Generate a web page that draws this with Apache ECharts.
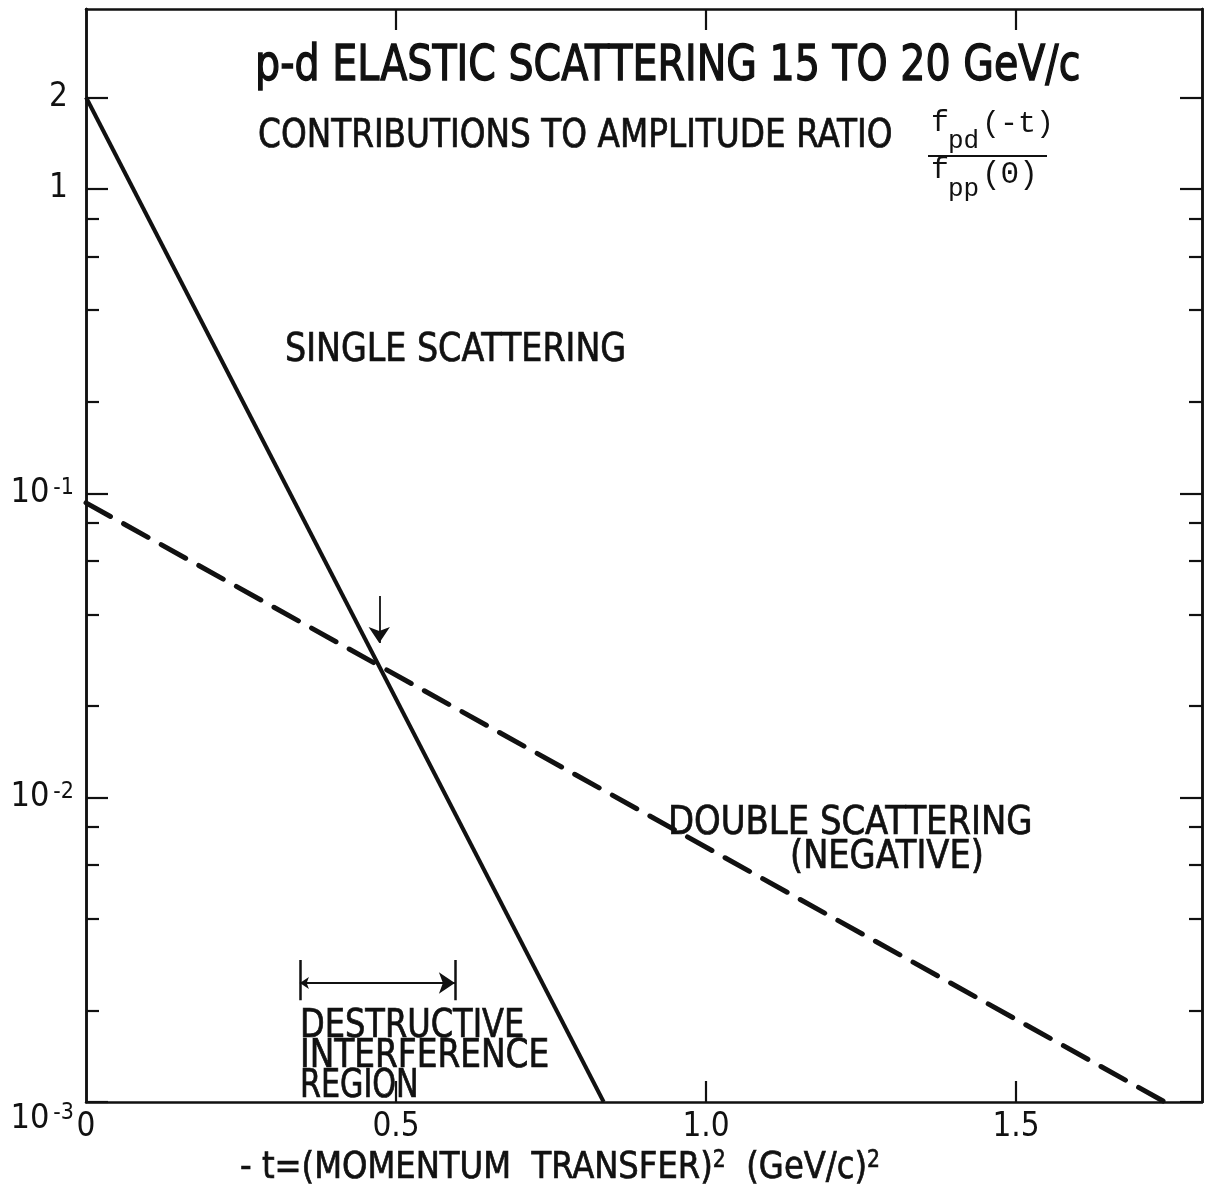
<!DOCTYPE html>
<html>
<head>
<meta charset="utf-8">
<script src="https://cdn.jsdelivr.net/npm/echarts@6/dist/echarts.min.js"></script>
<style>
html,body{margin:0;padding:0;background:#fff;}
#chart{width:1208px;height:1200px;}
</style>
</head>
<body>
<div id="chart"></div>
<script>
// ---- data ----
const singleX = [0, 0.835];
const singleY = [2, 0.001];
const doubleX = [0, 1.74];
const doubleY = [0.093, 0.001];
const regionX = [0.345, 0.595];
const regionY = 0.00246;
const regionBarY = [0.00293, 0.00216];
const crossArrowX = 0.473;
const crossArrowY = [0.046, 0.0322];

const xTickValues = [0.5, 1.0, 1.5];
const xLabelValues = [0, 0.5, 1.0, 1.5];
const yMajorTicks = [0.001, 0.01, 0.1, 1, 2];
const yMinorTicks = [0.002, 0.004, 0.006, 0.008, 0.02, 0.04, 0.06, 0.08, 0.2, 0.4, 0.6, 0.8];
const yLabelValues = [0.001, 0.01, 0.1, 1, 2];

const FONT = "'Liberation Sans Narrow', 'DejaVu Sans Condensed', 'Liberation Sans', sans-serif";
const MONO = "'Liberation Mono', 'DejaVu Sans Mono', monospace";
const INK = '#111';

const chart = echarts.init(document.getElementById('chart'), null, {renderer: 'canvas'});

function yAxisDef(position, ticks, len, labels) {
  return {
    type: 'log', logBase: 10, min: 0.001, max: 3.9, position: position,
    axisLine: {show: true, lineStyle: {color: INK, width: 2.5}},
    axisTick: {show: true, inside: true, length: len, customValues: ticks, lineStyle: {color: INK, width: 2.2}},
    axisLabel: labels ? {
      show: true, customValues: yLabelValues, margin: 12, color: INK,
      fontFamily: FONT, fontSize: 30,
      formatter: function (v) {
        if (v >= 0.99) return '{n|' + Math.round(v) + '}';
        const e = Math.round(Math.log10(v));
        if (e <= -3) return '{sp| }\n{b|10}{s|' + e + '}';
        return '{b|10}{s|' + e + '}';
      },
      rich: {
        n: {fontFamily: FONT, fontSize: 33, color: INK, padding: [0, 6, 0, 0]},
        sp: {fontSize: 10, lineHeight: 34},
        b: {fontFamily: FONT, fontSize: 34, color: INK, lineHeight: 34, verticalAlign: 'bottom'},
        s: {fontFamily: FONT, fontSize: 23, color: INK, lineHeight: 22, verticalAlign: 'top', padding: [0, 0, 0, 4]}
      }
    } : {show: false},
    splitLine: {show: false},
    minorTick: {show: false}
  };
}

function xAxisDef(position, labels) {
  return {
    type: 'value', min: 0, max: 1.8, position: position,
    axisLine: {show: true, onZero: false, lineStyle: {color: INK, width: 2.5}},
    axisTick: {show: true, inside: true, length: 21, customValues: xTickValues, lineStyle: {color: INK, width: 2.2}},
    axisLabel: labels ? {
      show: true, customValues: xLabelValues, margin: 9, color: INK,
      fontFamily: FONT, fontSize: 33,
      formatter: function (v) { return v === 0 ? '0' : v.toFixed(1); }
    } : {show: false},
    splitLine: {show: false}
  };
}

const txt = (text, x, y, size, sx, extra) => ({
  type: 'text', x: x, y: y, scaleX: sx, silent: true,
  style: Object.assign({text: text, fontFamily: FONT, fontSize: size, fill: INK,
    stroke: INK, lineWidth: 0.7, align: 'left', verticalAlign: 'middle'}, extra || {})
});
const mono = (text, x, y, size) => ({
  type: 'text', x: x, y: y, silent: true,
  style: {text: text, fontFamily: MONO, fontSize: size, fill: INK, align: 'left', verticalAlign: 'middle'}
});

const option = {
  backgroundColor: '#fff',
  animation: false,
  grid: {left: 86, right: 6, top: 9, bottom: 98, containLabel: false},
  xAxis: [xAxisDef('bottom', true), xAxisDef('top', false)],
  yAxis: [
    yAxisDef('left', yMajorTicks, 22, true),
    yAxisDef('left', yMinorTicks, 13, false),
    yAxisDef('right', yMajorTicks, 22, false),
    yAxisDef('right', yMinorTicks, 13, false)
  ],
  series: [
    {
      name: 'SINGLE SCATTERING', type: 'line', xAxisIndex: 0, yAxisIndex: 0,
      data: singleX.map((x, i) => [x, singleY[i]]),
      showSymbol: false, symbol: 'none',
      lineStyle: {color: INK, width: 4, type: 'solid'}
    },
    {
      name: 'DOUBLE SCATTERING (NEGATIVE)', type: 'line', xAxisIndex: 0, yAxisIndex: 0,
      data: doubleX.map((x, i) => [x, doubleY[i]]),
      showSymbol: false, symbol: 'none',
      lineStyle: {color: INK, width: 5, type: [28, 15], cap: 'round'}
    },
    {
      name: 'region arrow', type: 'lines', coordinateSystem: 'cartesian2d', xAxisIndex: 0, yAxisIndex: 0,
      symbol: ['arrow', 'arrow'], symbolSize: [9, 16],
      lineStyle: {color: INK, width: 2, opacity: 1},
      data: [{coords: [[regionX[0], regionY], [regionX[1], regionY]]}]
    },
    {
      name: 'region bars', type: 'lines', coordinateSystem: 'cartesian2d', xAxisIndex: 0, yAxisIndex: 0,
      symbol: ['none', 'none'],
      lineStyle: {color: INK, width: 2.5, opacity: 1},
      data: regionX.map(x => ({coords: [[x, regionBarY[0]], [x, regionBarY[1]]]}))
    },
    {
      name: 'crossing arrow', type: 'lines', coordinateSystem: 'cartesian2d', xAxisIndex: 0, yAxisIndex: 0,
      symbol: ['none', 'arrow'], symbolSize: [8, 16],
      lineStyle: {color: INK, width: 1.8, opacity: 1},
      data: [{coords: [[crossArrowX, crossArrowY[0]], [crossArrowX, crossArrowY[1]]]}]
    }
  ],
  graphic: [
    txt('p-d ELASTIC SCATTERING 15 TO 20 GeV/c', 255, 67, 50, 0.88, {lineWidth: 1.3}),
    txt('CONTRIBUTIONS TO AMPLITUDE RATIO', 258, 137, 39, 0.934),
    mono('f', 931, 123, 30),
    mono('pd', 948, 141, 26),
    mono('(-t)', 982, 124, 30),
    {type: 'line', silent: true, shape: {x1: 928, y1: 156, x2: 1047, y2: 156}, style: {stroke: INK, lineWidth: 2}},
    mono('f', 931, 170, 30),
    mono('pp', 948, 189, 26),
    mono('(0)', 982, 175, 31),
    txt('SINGLE SCATTERING', 285, 351, 39, 0.95),
    txt('DOUBLE SCATTERING', 668, 824, 39, 0.966),
    txt('(NEGATIVE)', 790, 858, 39, 0.96),
    txt('DESTRUCTIVE', 300, 1027, 39, 0.914),
    txt('INTERFERENCE', 300, 1057, 39, 0.936),
    txt('REGION', 300, 1087, 39, 0.86),
    txt('- t=(MOMENTUM  TRANSFER){s|2}  (GeV/c){s|2}', 240, 1168, 38, 0.944, {
      rich: {s: {fontFamily: FONT, fontSize: 24, fill: INK, stroke: INK, lineWidth: 0.6, verticalAlign: 'top', lineHeight: 20}}
    })
  ]
};
chart.setOption(option);
</script>
</body>
</html>
